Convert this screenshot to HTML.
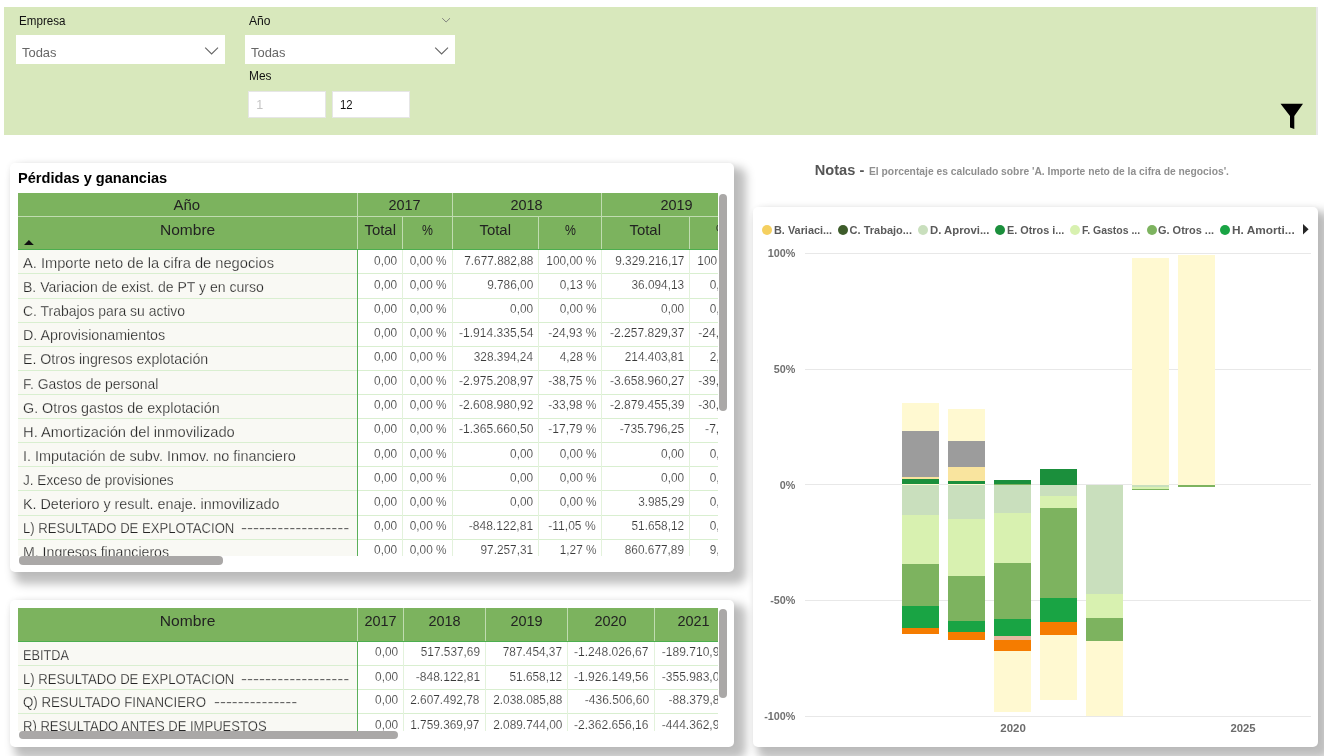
<!DOCTYPE html>
<html><head><meta charset="utf-8"><title>Pérdidas y ganancias</title>
<style>
html,body{margin:0;padding:0;}
body{width:1324px;height:756px;overflow:hidden;background:#fff;position:relative;font-family:"Liberation Sans",sans-serif;}
.t{position:absolute;white-space:pre;line-height:1;}
.clip{position:absolute;overflow:hidden;}
#root{position:absolute;left:0;top:0;width:1324px;height:756px;will-change:transform;}
</style></head>
<body>
<div id="root">
<div style="position:absolute;left:4.00px;top:7.00px;width:1312.00px;height:128.00px;background:#d8e8bc;"></div>
<div style="position:absolute;left:1316.00px;top:7.00px;width:2.00px;height:128.00px;background:#e8e8e8;"></div>
<div style="position:absolute;left:15.50px;top:35.30px;width:209.10px;height:28.60px;background:#fff;"></div>
<div style="position:absolute;left:245.30px;top:35.30px;width:209.30px;height:28.60px;background:#fff;"></div>
<div style="position:absolute;left:248.30px;top:90.90px;width:77.50px;height:27.40px;background:#fff;box-sizing:border-box;border:1px solid #e6e6e6;"></div>
<div style="position:absolute;left:331.60px;top:90.90px;width:78.20px;height:27.40px;background:#fff;box-sizing:border-box;border:1px solid #e6e6e6;"></div>
<svg style="position:absolute;left:0;top:0" width="1324" height="140" fill="none"><path d="M205.2 47.6 L211.6 54 L218 47.6" stroke="#666" stroke-width="1.1"/><path d="M435.2 47.6 L441.6 54 L448 47.6" stroke="#666" stroke-width="1.1"/><path d="M442.2 18.2 L446.1 22 L450 18.2" stroke="#777" stroke-width="0.9"/><path d="M1280.5 103.8 H1303 L1294.3 116 V129 L1290 127.5 V116 Z" fill="#000"/></svg>
<div style="position:absolute;left:9.50px;top:163.00px;width:724.50px;height:408.70px;background:#fff;border-radius:5px;box-shadow:8px 8px 10px 4px rgba(0,0,0,0.255),0 0 6px rgba(0,0,0,0.06);"></div>
<div style="position:absolute;left:9.50px;top:600.00px;width:724.50px;height:146.80px;background:#fff;border-radius:5px;box-shadow:8px 8px 10px 4px rgba(0,0,0,0.255),0 0 6px rgba(0,0,0,0.06);"></div>
<div style="position:absolute;left:753.20px;top:207.30px;width:564.90px;height:539.50px;background:#fff;border-radius:5px;box-shadow:8px 8px 10px 4px rgba(0,0,0,0.255),0 0 6px rgba(0,0,0,0.06);"></div>
<div class="clip" style="left:18px;top:193px;width:700.0px;height:363.0px"><div style="position:absolute;left:0.00px;top:0.00px;width:760.00px;height:56.80px;background:#7cb35e;"></div>
<div style="position:absolute;left:0.00px;top:56.80px;width:339.50px;height:400.00px;background:#f9f9f4;"></div>
<div style="position:absolute;left:0.00px;top:80.00px;width:760.00px;height:1.00px;background:#d9efd0;"></div>
<div style="position:absolute;left:0.00px;top:105.00px;width:760.00px;height:1.00px;background:#d9efd0;"></div>
<div style="position:absolute;left:0.00px;top:129.00px;width:760.00px;height:1.00px;background:#d9efd0;"></div>
<div style="position:absolute;left:0.00px;top:153.00px;width:760.00px;height:1.00px;background:#d9efd0;"></div>
<div style="position:absolute;left:0.00px;top:177.00px;width:760.00px;height:1.00px;background:#d9efd0;"></div>
<div style="position:absolute;left:0.00px;top:201.00px;width:760.00px;height:1.00px;background:#d9efd0;"></div>
<div style="position:absolute;left:0.00px;top:225.00px;width:760.00px;height:1.00px;background:#d9efd0;"></div>
<div style="position:absolute;left:0.00px;top:249.00px;width:760.00px;height:1.00px;background:#d9efd0;"></div>
<div style="position:absolute;left:0.00px;top:273.00px;width:760.00px;height:1.00px;background:#d9efd0;"></div>
<div style="position:absolute;left:0.00px;top:297.00px;width:760.00px;height:1.00px;background:#d9efd0;"></div>
<div style="position:absolute;left:0.00px;top:322.00px;width:760.00px;height:1.00px;background:#d9efd0;"></div>
<div style="position:absolute;left:0.00px;top:346.00px;width:760.00px;height:1.00px;background:#d9efd0;"></div>
<div style="position:absolute;left:0.00px;top:370.00px;width:760.00px;height:1.00px;background:#d9efd0;"></div>
<div style="position:absolute;left:384.00px;top:56.80px;width:1.00px;height:400.00px;background:#e3f2dc;"></div>
<div style="position:absolute;left:434.00px;top:56.80px;width:1.00px;height:400.00px;background:#e3f2dc;"></div>
<div style="position:absolute;left:520.00px;top:56.80px;width:1.00px;height:400.00px;background:#e3f2dc;"></div>
<div style="position:absolute;left:583.00px;top:56.80px;width:1.00px;height:400.00px;background:#e3f2dc;"></div>
<div style="position:absolute;left:671.00px;top:56.80px;width:1.00px;height:400.00px;background:#e3f2dc;"></div>
<div style="position:absolute;left:338.90px;top:56.80px;width:1.20px;height:400.00px;background:#5bb05a;"></div>
<div style="position:absolute;left:0.00px;top:22.50px;width:760.00px;height:1.00px;background:#c0dcb0;"></div>
<div style="position:absolute;left:339.00px;top:0.00px;width:1.00px;height:56.80px;background:#c0dcb0;"></div>
<div style="position:absolute;left:433.50px;top:0.00px;width:1.00px;height:56.80px;background:#c0dcb0;"></div>
<div style="position:absolute;left:583.10px;top:0.00px;width:1.00px;height:56.80px;background:#c0dcb0;"></div>
<div style="position:absolute;left:734.00px;top:0.00px;width:1.00px;height:56.80px;background:#c0dcb0;"></div>
<div style="position:absolute;left:384.00px;top:23.00px;width:1.00px;height:33.80px;background:#c0dcb0;"></div>
<div style="position:absolute;left:520.00px;top:23.00px;width:1.00px;height:33.80px;background:#c0dcb0;"></div>
<div style="position:absolute;left:671.00px;top:23.00px;width:1.00px;height:33.80px;background:#c0dcb0;"></div>
<div style="position:absolute;left:0.00px;top:56.00px;width:760.00px;height:1.30px;background:#4cae4f;"></div>
<svg style="position:absolute;left:5.5px;top:47.19999999999999px" width="10" height="6"><path d="M0 5 L4.9 0 L9.8 5 Z" fill="#111"/></svg>
<span class="t" style="top:62.94px;font-size:14.6px;color:#242424;-webkit-text-stroke:0.25px #f9f9f4;left:5.30px;transform-origin:0 0;transform:scaleX(1.0045);">A. Importe neto de la cifra de negocios</span>
<span class="t" style="top:61.60px;font-size:12.4px;color:#3a3a3a;-webkit-text-stroke:0.15px #fff;left:354.88px;transform-origin:100% 0;transform:scaleX(0.9550);">0,00</span>
<span class="t" style="top:61.60px;font-size:12.4px;color:#3a3a3a;-webkit-text-stroke:0.15px #fff;left:389.92px;transform-origin:100% 0;transform:scaleX(0.9550);">0,00 %</span>
<span class="t" style="top:61.60px;font-size:12.4px;color:#3a3a3a;-webkit-text-stroke:0.15px #fff;left:442.64px;transform-origin:100% 0;transform:scaleX(0.9550);">7.677.882,88</span>
<span class="t" style="top:61.60px;font-size:12.4px;color:#3a3a3a;-webkit-text-stroke:0.15px #fff;left:525.74px;transform-origin:100% 0;transform:scaleX(0.9550);">100,00 %</span>
<span class="t" style="top:61.60px;font-size:12.4px;color:#3a3a3a;-webkit-text-stroke:0.15px #fff;left:593.64px;transform-origin:100% 0;transform:scaleX(0.9550);">9.329.216,17</span>
<span class="t" style="top:61.60px;font-size:12.4px;color:#3a3a3a;-webkit-text-stroke:0.15px #fff;left:676.64px;transform-origin:100% 0;transform:scaleX(0.9550);">100,00 %</span>
<span class="t" style="top:87.06px;font-size:14.6px;color:#242424;-webkit-text-stroke:0.25px #f9f9f4;left:5.30px;transform-origin:0 0;transform:scaleX(0.9631);">B. Variacion de exist. de PT y en curso</span>
<span class="t" style="top:85.72px;font-size:12.4px;color:#3a3a3a;-webkit-text-stroke:0.15px #fff;left:354.88px;transform-origin:100% 0;transform:scaleX(0.9550);">0,00</span>
<span class="t" style="top:85.72px;font-size:12.4px;color:#3a3a3a;-webkit-text-stroke:0.15px #fff;left:389.92px;transform-origin:100% 0;transform:scaleX(0.9550);">0,00 %</span>
<span class="t" style="top:85.72px;font-size:12.4px;color:#3a3a3a;-webkit-text-stroke:0.15px #fff;left:466.77px;transform-origin:100% 0;transform:scaleX(0.9550);">9.786,00</span>
<span class="t" style="top:85.72px;font-size:12.4px;color:#3a3a3a;-webkit-text-stroke:0.15px #fff;left:539.52px;transform-origin:100% 0;transform:scaleX(0.9550);">0,13 %</span>
<span class="t" style="top:85.72px;font-size:12.4px;color:#3a3a3a;-webkit-text-stroke:0.15px #fff;left:610.88px;transform-origin:100% 0;transform:scaleX(0.9550);">36.094,13</span>
<span class="t" style="top:85.72px;font-size:12.4px;color:#3a3a3a;-webkit-text-stroke:0.15px #fff;left:690.42px;transform-origin:100% 0;transform:scaleX(0.9550);">0,39 %</span>
<span class="t" style="top:111.18px;font-size:14.6px;color:#242424;-webkit-text-stroke:0.25px #f9f9f4;left:5.30px;transform-origin:0 0;transform:scaleX(0.9562);">C. Trabajos para su activo</span>
<span class="t" style="top:109.84px;font-size:12.4px;color:#3a3a3a;-webkit-text-stroke:0.15px #fff;left:354.88px;transform-origin:100% 0;transform:scaleX(0.9550);">0,00</span>
<span class="t" style="top:109.84px;font-size:12.4px;color:#3a3a3a;-webkit-text-stroke:0.15px #fff;left:389.92px;transform-origin:100% 0;transform:scaleX(0.9550);">0,00 %</span>
<span class="t" style="top:109.84px;font-size:12.4px;color:#3a3a3a;-webkit-text-stroke:0.15px #fff;left:490.88px;transform-origin:100% 0;transform:scaleX(0.9550);">0,00</span>
<span class="t" style="top:109.84px;font-size:12.4px;color:#3a3a3a;-webkit-text-stroke:0.15px #fff;left:539.52px;transform-origin:100% 0;transform:scaleX(0.9550);">0,00 %</span>
<span class="t" style="top:109.84px;font-size:12.4px;color:#3a3a3a;-webkit-text-stroke:0.15px #fff;left:641.88px;transform-origin:100% 0;transform:scaleX(0.9550);">0,00</span>
<span class="t" style="top:109.84px;font-size:12.4px;color:#3a3a3a;-webkit-text-stroke:0.15px #fff;left:690.42px;transform-origin:100% 0;transform:scaleX(0.9550);">0,00 %</span>
<span class="t" style="top:135.30px;font-size:14.6px;color:#242424;-webkit-text-stroke:0.25px #f9f9f4;left:5.30px;transform-origin:0 0;transform:scaleX(0.9793);">D. Aprovisionamientos</span>
<span class="t" style="top:133.96px;font-size:12.4px;color:#3a3a3a;-webkit-text-stroke:0.15px #fff;left:354.88px;transform-origin:100% 0;transform:scaleX(0.9550);">0,00</span>
<span class="t" style="top:133.96px;font-size:12.4px;color:#3a3a3a;-webkit-text-stroke:0.15px #fff;left:389.92px;transform-origin:100% 0;transform:scaleX(0.9550);">0,00 %</span>
<span class="t" style="top:133.96px;font-size:12.4px;color:#3a3a3a;-webkit-text-stroke:0.15px #fff;left:438.52px;transform-origin:100% 0;transform:scaleX(0.9741);">-1.914.335,54</span>
<span class="t" style="top:133.96px;font-size:12.4px;color:#3a3a3a;-webkit-text-stroke:0.15px #fff;left:528.51px;transform-origin:100% 0;transform:scaleX(0.9741);">-24,93 %</span>
<span class="t" style="top:133.96px;font-size:12.4px;color:#3a3a3a;-webkit-text-stroke:0.15px #fff;left:589.52px;transform-origin:100% 0;transform:scaleX(0.9741);">-2.257.829,37</span>
<span class="t" style="top:133.96px;font-size:12.4px;color:#3a3a3a;-webkit-text-stroke:0.15px #fff;left:679.41px;transform-origin:100% 0;transform:scaleX(0.9741);">-24,20 %</span>
<span class="t" style="top:159.42px;font-size:14.6px;color:#242424;-webkit-text-stroke:0.25px #f9f9f4;left:5.30px;transform-origin:0 0;transform:scaleX(0.9715);">E. Otros ingresos explotación</span>
<span class="t" style="top:158.08px;font-size:12.4px;color:#3a3a3a;-webkit-text-stroke:0.15px #fff;left:354.88px;transform-origin:100% 0;transform:scaleX(0.9550);">0,00</span>
<span class="t" style="top:158.08px;font-size:12.4px;color:#3a3a3a;-webkit-text-stroke:0.15px #fff;left:389.92px;transform-origin:100% 0;transform:scaleX(0.9550);">0,00 %</span>
<span class="t" style="top:158.08px;font-size:12.4px;color:#3a3a3a;-webkit-text-stroke:0.15px #fff;left:452.98px;transform-origin:100% 0;transform:scaleX(0.9550);">328.394,24</span>
<span class="t" style="top:158.08px;font-size:12.4px;color:#3a3a3a;-webkit-text-stroke:0.15px #fff;left:539.52px;transform-origin:100% 0;transform:scaleX(0.9550);">4,28 %</span>
<span class="t" style="top:158.08px;font-size:12.4px;color:#3a3a3a;-webkit-text-stroke:0.15px #fff;left:603.98px;transform-origin:100% 0;transform:scaleX(0.9550);">214.403,81</span>
<span class="t" style="top:158.08px;font-size:12.4px;color:#3a3a3a;-webkit-text-stroke:0.15px #fff;left:690.42px;transform-origin:100% 0;transform:scaleX(0.9550);">2,30 %</span>
<span class="t" style="top:183.54px;font-size:14.6px;color:#242424;-webkit-text-stroke:0.25px #f9f9f4;left:5.30px;transform-origin:0 0;transform:scaleX(0.9537);">F. Gastos de personal</span>
<span class="t" style="top:182.20px;font-size:12.4px;color:#3a3a3a;-webkit-text-stroke:0.15px #fff;left:354.88px;transform-origin:100% 0;transform:scaleX(0.9550);">0,00</span>
<span class="t" style="top:182.20px;font-size:12.4px;color:#3a3a3a;-webkit-text-stroke:0.15px #fff;left:389.92px;transform-origin:100% 0;transform:scaleX(0.9550);">0,00 %</span>
<span class="t" style="top:182.20px;font-size:12.4px;color:#3a3a3a;-webkit-text-stroke:0.15px #fff;left:438.52px;transform-origin:100% 0;transform:scaleX(0.9741);">-2.975.208,97</span>
<span class="t" style="top:182.20px;font-size:12.4px;color:#3a3a3a;-webkit-text-stroke:0.15px #fff;left:528.51px;transform-origin:100% 0;transform:scaleX(0.9741);">-38,75 %</span>
<span class="t" style="top:182.20px;font-size:12.4px;color:#3a3a3a;-webkit-text-stroke:0.15px #fff;left:589.52px;transform-origin:100% 0;transform:scaleX(0.9741);">-3.658.960,27</span>
<span class="t" style="top:182.20px;font-size:12.4px;color:#3a3a3a;-webkit-text-stroke:0.15px #fff;left:679.41px;transform-origin:100% 0;transform:scaleX(0.9741);">-39,22 %</span>
<span class="t" style="top:207.66px;font-size:14.6px;color:#242424;-webkit-text-stroke:0.25px #f9f9f4;left:5.30px;transform-origin:0 0;transform:scaleX(0.9812);">G. Otros gastos de explotación</span>
<span class="t" style="top:206.32px;font-size:12.4px;color:#3a3a3a;-webkit-text-stroke:0.15px #fff;left:354.88px;transform-origin:100% 0;transform:scaleX(0.9550);">0,00</span>
<span class="t" style="top:206.32px;font-size:12.4px;color:#3a3a3a;-webkit-text-stroke:0.15px #fff;left:389.92px;transform-origin:100% 0;transform:scaleX(0.9550);">0,00 %</span>
<span class="t" style="top:206.32px;font-size:12.4px;color:#3a3a3a;-webkit-text-stroke:0.15px #fff;left:438.52px;transform-origin:100% 0;transform:scaleX(0.9741);">-2.608.980,92</span>
<span class="t" style="top:206.32px;font-size:12.4px;color:#3a3a3a;-webkit-text-stroke:0.15px #fff;left:528.51px;transform-origin:100% 0;transform:scaleX(0.9741);">-33,98 %</span>
<span class="t" style="top:206.32px;font-size:12.4px;color:#3a3a3a;-webkit-text-stroke:0.15px #fff;left:589.52px;transform-origin:100% 0;transform:scaleX(0.9741);">-2.879.455,39</span>
<span class="t" style="top:206.32px;font-size:12.4px;color:#3a3a3a;-webkit-text-stroke:0.15px #fff;left:679.41px;transform-origin:100% 0;transform:scaleX(0.9741);">-30,86 %</span>
<span class="t" style="top:231.78px;font-size:14.6px;color:#242424;-webkit-text-stroke:0.25px #f9f9f4;left:5.30px;transform-origin:0 0;transform:scaleX(1.0082);">H. Amortización del inmovilizado</span>
<span class="t" style="top:230.44px;font-size:12.4px;color:#3a3a3a;-webkit-text-stroke:0.15px #fff;left:354.88px;transform-origin:100% 0;transform:scaleX(0.9550);">0,00</span>
<span class="t" style="top:230.44px;font-size:12.4px;color:#3a3a3a;-webkit-text-stroke:0.15px #fff;left:389.92px;transform-origin:100% 0;transform:scaleX(0.9550);">0,00 %</span>
<span class="t" style="top:230.44px;font-size:12.4px;color:#3a3a3a;-webkit-text-stroke:0.15px #fff;left:438.52px;transform-origin:100% 0;transform:scaleX(0.9741);">-1.365.660,50</span>
<span class="t" style="top:230.44px;font-size:12.4px;color:#3a3a3a;-webkit-text-stroke:0.15px #fff;left:528.51px;transform-origin:100% 0;transform:scaleX(0.9741);">-17,79 %</span>
<span class="t" style="top:230.44px;font-size:12.4px;color:#3a3a3a;-webkit-text-stroke:0.15px #fff;left:599.86px;transform-origin:100% 0;transform:scaleX(0.9741);">-735.796,25</span>
<span class="t" style="top:230.44px;font-size:12.4px;color:#3a3a3a;-webkit-text-stroke:0.15px #fff;left:686.30px;transform-origin:100% 0;transform:scaleX(0.9741);">-7,89 %</span>
<span class="t" style="top:255.90px;font-size:14.6px;color:#242424;-webkit-text-stroke:0.25px #f9f9f4;left:5.30px;transform-origin:0 0;transform:scaleX(0.9878);">I. Imputación de subv. Inmov. no financiero</span>
<span class="t" style="top:254.56px;font-size:12.4px;color:#3a3a3a;-webkit-text-stroke:0.15px #fff;left:354.88px;transform-origin:100% 0;transform:scaleX(0.9550);">0,00</span>
<span class="t" style="top:254.56px;font-size:12.4px;color:#3a3a3a;-webkit-text-stroke:0.15px #fff;left:389.92px;transform-origin:100% 0;transform:scaleX(0.9550);">0,00 %</span>
<span class="t" style="top:254.56px;font-size:12.4px;color:#3a3a3a;-webkit-text-stroke:0.15px #fff;left:490.88px;transform-origin:100% 0;transform:scaleX(0.9550);">0,00</span>
<span class="t" style="top:254.56px;font-size:12.4px;color:#3a3a3a;-webkit-text-stroke:0.15px #fff;left:539.52px;transform-origin:100% 0;transform:scaleX(0.9550);">0,00 %</span>
<span class="t" style="top:254.56px;font-size:12.4px;color:#3a3a3a;-webkit-text-stroke:0.15px #fff;left:641.88px;transform-origin:100% 0;transform:scaleX(0.9550);">0,00</span>
<span class="t" style="top:254.56px;font-size:12.4px;color:#3a3a3a;-webkit-text-stroke:0.15px #fff;left:690.42px;transform-origin:100% 0;transform:scaleX(0.9550);">0,00 %</span>
<span class="t" style="top:280.02px;font-size:14.6px;color:#242424;-webkit-text-stroke:0.25px #f9f9f4;left:5.30px;transform-origin:0 0;transform:scaleX(0.9329);">J. Exceso de provisiones</span>
<span class="t" style="top:278.68px;font-size:12.4px;color:#3a3a3a;-webkit-text-stroke:0.15px #fff;left:354.88px;transform-origin:100% 0;transform:scaleX(0.9550);">0,00</span>
<span class="t" style="top:278.68px;font-size:12.4px;color:#3a3a3a;-webkit-text-stroke:0.15px #fff;left:389.92px;transform-origin:100% 0;transform:scaleX(0.9550);">0,00 %</span>
<span class="t" style="top:278.68px;font-size:12.4px;color:#3a3a3a;-webkit-text-stroke:0.15px #fff;left:490.88px;transform-origin:100% 0;transform:scaleX(0.9550);">0,00</span>
<span class="t" style="top:278.68px;font-size:12.4px;color:#3a3a3a;-webkit-text-stroke:0.15px #fff;left:539.52px;transform-origin:100% 0;transform:scaleX(0.9550);">0,00 %</span>
<span class="t" style="top:278.68px;font-size:12.4px;color:#3a3a3a;-webkit-text-stroke:0.15px #fff;left:641.88px;transform-origin:100% 0;transform:scaleX(0.9550);">0,00</span>
<span class="t" style="top:278.68px;font-size:12.4px;color:#3a3a3a;-webkit-text-stroke:0.15px #fff;left:690.42px;transform-origin:100% 0;transform:scaleX(0.9550);">0,00 %</span>
<span class="t" style="top:304.14px;font-size:14.6px;color:#242424;-webkit-text-stroke:0.25px #f9f9f4;left:5.30px;transform-origin:0 0;transform:scaleX(0.9817);">K. Deterioro y result. enaje. inmovilizado</span>
<span class="t" style="top:302.80px;font-size:12.4px;color:#3a3a3a;-webkit-text-stroke:0.15px #fff;left:354.88px;transform-origin:100% 0;transform:scaleX(0.9550);">0,00</span>
<span class="t" style="top:302.80px;font-size:12.4px;color:#3a3a3a;-webkit-text-stroke:0.15px #fff;left:389.92px;transform-origin:100% 0;transform:scaleX(0.9550);">0,00 %</span>
<span class="t" style="top:302.80px;font-size:12.4px;color:#3a3a3a;-webkit-text-stroke:0.15px #fff;left:490.88px;transform-origin:100% 0;transform:scaleX(0.9550);">0,00</span>
<span class="t" style="top:302.80px;font-size:12.4px;color:#3a3a3a;-webkit-text-stroke:0.15px #fff;left:539.52px;transform-origin:100% 0;transform:scaleX(0.9550);">0,00 %</span>
<span class="t" style="top:302.80px;font-size:12.4px;color:#3a3a3a;-webkit-text-stroke:0.15px #fff;left:617.77px;transform-origin:100% 0;transform:scaleX(0.9550);">3.985,29</span>
<span class="t" style="top:302.80px;font-size:12.4px;color:#3a3a3a;-webkit-text-stroke:0.15px #fff;left:690.42px;transform-origin:100% 0;transform:scaleX(0.9550);">0,04 %</span>
<span class="t" style="top:328.26px;font-size:14.6px;color:#242424;-webkit-text-stroke:0.25px #f9f9f4;left:5.30px;transform-origin:0 0;transform:scaleX(0.8985);">L) RESULTADO DE EXPLOTACION</span>
<span class="t" style="top:328.26px;font-size:14.6px;color:#242424;-webkit-text-stroke:0.25px #f9f9f4;left:222.60px;transform-origin:0 0;transform:scaleX(1.2391);">------------------</span>
<span class="t" style="top:326.92px;font-size:12.4px;color:#3a3a3a;-webkit-text-stroke:0.15px #fff;left:354.88px;transform-origin:100% 0;transform:scaleX(0.9550);">0,00</span>
<span class="t" style="top:326.92px;font-size:12.4px;color:#3a3a3a;-webkit-text-stroke:0.15px #fff;left:389.92px;transform-origin:100% 0;transform:scaleX(0.9550);">0,00 %</span>
<span class="t" style="top:326.92px;font-size:12.4px;color:#3a3a3a;-webkit-text-stroke:0.15px #fff;left:448.86px;transform-origin:100% 0;transform:scaleX(0.9741);">-848.122,81</span>
<span class="t" style="top:326.92px;font-size:12.4px;color:#3a3a3a;-webkit-text-stroke:0.15px #fff;left:529.41px;transform-origin:100% 0;transform:scaleX(0.9741);">-11,05 %</span>
<span class="t" style="top:326.92px;font-size:12.4px;color:#3a3a3a;-webkit-text-stroke:0.15px #fff;left:610.88px;transform-origin:100% 0;transform:scaleX(0.9550);">51.658,12</span>
<span class="t" style="top:326.92px;font-size:12.4px;color:#3a3a3a;-webkit-text-stroke:0.15px #fff;left:690.42px;transform-origin:100% 0;transform:scaleX(0.9550);">0,55 %</span>
<span class="t" style="top:352.38px;font-size:14.6px;color:#242424;-webkit-text-stroke:0.25px #f9f9f4;left:5.30px;transform-origin:0 0;transform:scaleX(0.9677);">M. Ingresos financieros</span>
<span class="t" style="top:351.04px;font-size:12.4px;color:#3a3a3a;-webkit-text-stroke:0.15px #fff;left:354.88px;transform-origin:100% 0;transform:scaleX(0.9550);">0,00</span>
<span class="t" style="top:351.04px;font-size:12.4px;color:#3a3a3a;-webkit-text-stroke:0.15px #fff;left:389.92px;transform-origin:100% 0;transform:scaleX(0.9550);">0,00 %</span>
<span class="t" style="top:351.04px;font-size:12.4px;color:#3a3a3a;-webkit-text-stroke:0.15px #fff;left:459.88px;transform-origin:100% 0;transform:scaleX(0.9550);">97.257,31</span>
<span class="t" style="top:351.04px;font-size:12.4px;color:#3a3a3a;-webkit-text-stroke:0.15px #fff;left:539.52px;transform-origin:100% 0;transform:scaleX(0.9550);">1,27 %</span>
<span class="t" style="top:351.04px;font-size:12.4px;color:#3a3a3a;-webkit-text-stroke:0.15px #fff;left:603.98px;transform-origin:100% 0;transform:scaleX(0.9550);">860.677,89</span>
<span class="t" style="top:351.04px;font-size:12.4px;color:#3a3a3a;-webkit-text-stroke:0.15px #fff;left:690.42px;transform-origin:100% 0;transform:scaleX(0.9550);">9,23 %</span>
<span class="t" style="top:4.61px;font-size:14.4px;color:#222;left:156.00px;transform-origin:50% 0;transform:scaleX(1.0387);">Año</span>
<span class="t" style="top:30.21px;font-size:14.4px;color:#222;left:143.61px;transform-origin:50% 0;transform:scaleX(1.0803);">Nombre</span>
<span class="t" style="top:4.85px;font-size:14px;color:#222;left:371.17px;transform-origin:50% 0;transform:scaleX(1.0335);">2017</span>
<span class="t" style="top:4.85px;font-size:14px;color:#222;left:493.22px;transform-origin:50% 0;transform:scaleX(1.0335);">2018</span>
<span class="t" style="top:4.85px;font-size:14px;color:#222;left:643.47px;transform-origin:50% 0;transform:scaleX(1.0335);">2019</span>
<span class="t" style="top:30.21px;font-size:14.4px;color:#222;left:346.80px;transform-origin:50% 0;transform:scaleX(1.0360);">Total</span>
<span class="t" style="top:30.21px;font-size:14.4px;color:#222;left:402.85px;transform-origin:50% 0;transform:scaleX(0.8518);">%</span>
<span class="t" style="top:30.21px;font-size:14.4px;color:#222;left:462.05px;transform-origin:50% 0;transform:scaleX(1.0360);">Total</span>
<span class="t" style="top:30.21px;font-size:14.4px;color:#222;left:545.65px;transform-origin:50% 0;transform:scaleX(0.8518);">%</span>
<span class="t" style="top:30.21px;font-size:14.4px;color:#222;left:612.35px;transform-origin:50% 0;transform:scaleX(1.0360);">Total</span>
<span class="t" style="top:30.21px;font-size:14.4px;color:#222;left:696.60px;transform-origin:50% 0;transform:scaleX(0.8518);">%</span></div>
<div style="position:absolute;left:718.90px;top:193.50px;width:8.10px;height:217.40px;background:#aaa8a7;border-radius:4px;"></div>
<div style="position:absolute;left:18.70px;top:556.40px;width:204.60px;height:8.20px;background:#aaa8a7;border-radius:4.1px;"></div>
<div class="clip" style="left:18px;top:608px;width:700.0px;height:122.8px"><div style="position:absolute;left:0.00px;top:0.00px;width:760.00px;height:33.70px;background:#7cb35e;"></div>
<div style="position:absolute;left:0.00px;top:33.70px;width:339.40px;height:200.00px;background:#f9f9f4;"></div>
<div style="position:absolute;left:0.00px;top:57.00px;width:760.00px;height:1.00px;background:#d9efd0;"></div>
<div style="position:absolute;left:0.00px;top:81.00px;width:760.00px;height:1.00px;background:#d9efd0;"></div>
<div style="position:absolute;left:0.00px;top:105.00px;width:760.00px;height:1.00px;background:#d9efd0;"></div>
<div style="position:absolute;left:0.00px;top:129.00px;width:760.00px;height:1.00px;background:#d9efd0;"></div>
<div style="position:absolute;left:385.00px;top:33.70px;width:1.00px;height:200.00px;background:#e3f2dc;"></div>
<div style="position:absolute;left:467.00px;top:33.70px;width:1.00px;height:200.00px;background:#e3f2dc;"></div>
<div style="position:absolute;left:549.00px;top:33.70px;width:1.00px;height:200.00px;background:#e3f2dc;"></div>
<div style="position:absolute;left:636.00px;top:33.70px;width:1.00px;height:200.00px;background:#e3f2dc;"></div>
<div style="position:absolute;left:338.80px;top:33.70px;width:1.20px;height:200.00px;background:#5bb05a;"></div>
<div style="position:absolute;left:338.90px;top:0.00px;width:1.00px;height:33.70px;background:#c0dcb0;"></div>
<div style="position:absolute;left:385.00px;top:0.00px;width:1.00px;height:33.70px;background:#c0dcb0;"></div>
<div style="position:absolute;left:466.80px;top:0.00px;width:1.00px;height:33.70px;background:#c0dcb0;"></div>
<div style="position:absolute;left:549.00px;top:0.00px;width:1.00px;height:33.70px;background:#c0dcb0;"></div>
<div style="position:absolute;left:635.90px;top:0.00px;width:1.00px;height:33.70px;background:#c0dcb0;"></div>
<div style="position:absolute;left:713.50px;top:0.00px;width:1.00px;height:33.70px;background:#c0dcb0;"></div>
<div style="position:absolute;left:0.00px;top:32.90px;width:760.00px;height:1.30px;background:#4cae4f;"></div>
<span class="t" style="top:39.64px;font-size:14.6px;color:#242424;-webkit-text-stroke:0.25px #f9f9f4;left:5.30px;transform-origin:0 0;transform:scaleX(0.8707);">EBITDA</span>
<span class="t" style="top:37.70px;font-size:12.4px;color:#3a3a3a;-webkit-text-stroke:0.15px #fff;left:355.88px;transform-origin:100% 0;transform:scaleX(0.9550);">0,00</span>
<span class="t" style="top:37.70px;font-size:12.4px;color:#3a3a3a;-webkit-text-stroke:0.15px #fff;left:399.78px;transform-origin:100% 0;transform:scaleX(0.9550);">517.537,69</span>
<span class="t" style="top:37.70px;font-size:12.4px;color:#3a3a3a;-webkit-text-stroke:0.15px #fff;left:481.98px;transform-origin:100% 0;transform:scaleX(0.9550);">787.454,37</span>
<span class="t" style="top:37.70px;font-size:12.4px;color:#3a3a3a;-webkit-text-stroke:0.15px #fff;left:554.42px;transform-origin:100% 0;transform:scaleX(0.9741);">-1.248.026,67</span>
<span class="t" style="top:37.70px;font-size:12.4px;color:#3a3a3a;-webkit-text-stroke:0.15px #fff;left:642.36px;transform-origin:100% 0;transform:scaleX(0.9741);">-189.710,98</span>
<span class="t" style="top:63.54px;font-size:14.6px;color:#242424;-webkit-text-stroke:0.25px #f9f9f4;left:5.30px;transform-origin:0 0;transform:scaleX(0.8985);">L) RESULTADO DE EXPLOTACION</span>
<span class="t" style="top:63.54px;font-size:14.6px;color:#242424;-webkit-text-stroke:0.25px #f9f9f4;left:222.60px;transform-origin:0 0;transform:scaleX(1.2391);">------------------</span>
<span class="t" style="top:62.80px;font-size:12.4px;color:#3a3a3a;-webkit-text-stroke:0.15px #fff;left:355.88px;transform-origin:100% 0;transform:scaleX(0.9550);">0,00</span>
<span class="t" style="top:62.80px;font-size:12.4px;color:#3a3a3a;-webkit-text-stroke:0.15px #fff;left:395.66px;transform-origin:100% 0;transform:scaleX(0.9741);">-848.122,81</span>
<span class="t" style="top:62.80px;font-size:12.4px;color:#3a3a3a;-webkit-text-stroke:0.15px #fff;left:488.88px;transform-origin:100% 0;transform:scaleX(0.9550);">51.658,12</span>
<span class="t" style="top:62.80px;font-size:12.4px;color:#3a3a3a;-webkit-text-stroke:0.15px #fff;left:554.42px;transform-origin:100% 0;transform:scaleX(0.9741);">-1.926.149,56</span>
<span class="t" style="top:62.80px;font-size:12.4px;color:#3a3a3a;-webkit-text-stroke:0.15px #fff;left:642.36px;transform-origin:100% 0;transform:scaleX(0.9741);">-355.983,08</span>
<span class="t" style="top:87.44px;font-size:14.6px;color:#242424;-webkit-text-stroke:0.25px #f9f9f4;left:5.30px;transform-origin:0 0;transform:scaleX(0.9088);">Q) RESULTADO FINANCIERO</span>
<span class="t" style="top:87.44px;font-size:14.6px;color:#242424;-webkit-text-stroke:0.25px #f9f9f4;left:195.60px;transform-origin:0 0;transform:scaleX(1.2227);">--------------</span>
<span class="t" style="top:85.60px;font-size:12.4px;color:#3a3a3a;-webkit-text-stroke:0.15px #fff;left:355.88px;transform-origin:100% 0;transform:scaleX(0.9550);">0,00</span>
<span class="t" style="top:85.60px;font-size:12.4px;color:#3a3a3a;-webkit-text-stroke:0.15px #fff;left:389.44px;transform-origin:100% 0;transform:scaleX(0.9550);">2.607.492,78</span>
<span class="t" style="top:85.60px;font-size:12.4px;color:#3a3a3a;-webkit-text-stroke:0.15px #fff;left:471.64px;transform-origin:100% 0;transform:scaleX(0.9550);">2.038.085,88</span>
<span class="t" style="top:85.60px;font-size:12.4px;color:#3a3a3a;-webkit-text-stroke:0.15px #fff;left:564.76px;transform-origin:100% 0;transform:scaleX(0.9741);">-436.506,60</span>
<span class="t" style="top:85.60px;font-size:12.4px;color:#3a3a3a;-webkit-text-stroke:0.15px #fff;left:649.25px;transform-origin:100% 0;transform:scaleX(0.9741);">-88.379,87</span>
<span class="t" style="top:111.34px;font-size:14.6px;color:#242424;-webkit-text-stroke:0.25px #f9f9f4;left:5.30px;transform-origin:0 0;transform:scaleX(0.8940);">R) RESULTADO ANTES DE IMPUESTOS</span>
<span class="t" style="top:111.00px;font-size:12.4px;color:#3a3a3a;-webkit-text-stroke:0.15px #fff;left:355.88px;transform-origin:100% 0;transform:scaleX(0.9550);">0,00</span>
<span class="t" style="top:111.00px;font-size:12.4px;color:#3a3a3a;-webkit-text-stroke:0.15px #fff;left:389.44px;transform-origin:100% 0;transform:scaleX(0.9550);">1.759.369,97</span>
<span class="t" style="top:111.00px;font-size:12.4px;color:#3a3a3a;-webkit-text-stroke:0.15px #fff;left:471.64px;transform-origin:100% 0;transform:scaleX(0.9550);">2.089.744,00</span>
<span class="t" style="top:111.00px;font-size:12.4px;color:#3a3a3a;-webkit-text-stroke:0.15px #fff;left:554.42px;transform-origin:100% 0;transform:scaleX(0.9741);">-2.362.656,16</span>
<span class="t" style="top:111.00px;font-size:12.4px;color:#3a3a3a;-webkit-text-stroke:0.15px #fff;left:642.36px;transform-origin:100% 0;transform:scaleX(0.9741);">-444.362,95</span>
<span class="t" style="top:6.21px;font-size:14.4px;color:#222;left:143.51px;transform-origin:50% 0;transform:scaleX(1.0842);">Nombre</span>
<span class="t" style="top:6.45px;font-size:14px;color:#222;left:346.87px;transform-origin:50% 0;transform:scaleX(1.0335);">2017</span>
<span class="t" style="top:6.45px;font-size:14px;color:#222;left:410.82px;transform-origin:50% 0;transform:scaleX(1.0335);">2018</span>
<span class="t" style="top:6.45px;font-size:14px;color:#222;left:492.82px;transform-origin:50% 0;transform:scaleX(1.0335);">2019</span>
<span class="t" style="top:6.45px;font-size:14px;color:#222;left:577.37px;transform-origin:50% 0;transform:scaleX(1.0335);">2020</span>
<span class="t" style="top:6.45px;font-size:14px;color:#222;left:659.62px;transform-origin:50% 0;transform:scaleX(1.0335);">2021</span></div>
<div style="position:absolute;left:719.00px;top:609.00px;width:8.10px;height:89.00px;background:#aaa8a7;border-radius:4px;"></div>
<div style="position:absolute;left:18.70px;top:731.30px;width:379.00px;height:7.90px;background:#aaa8a7;border-radius:4px;"></div>
<div style="position:absolute;left:805.40px;top:252.90px;width:505.20px;height:1.00px;background:#e8e8e8;"></div>
<div style="position:absolute;left:805.40px;top:368.62px;width:505.20px;height:1.00px;background:#e8e8e8;"></div>
<div style="position:absolute;left:805.40px;top:484.35px;width:505.20px;height:1.00px;background:#e8e8e8;"></div>
<div style="position:absolute;left:805.40px;top:600.08px;width:505.20px;height:1.00px;background:#e8e8e8;"></div>
<div style="position:absolute;left:805.40px;top:715.80px;width:505.20px;height:1.00px;background:#e8e8e8;"></div>
<div style="position:absolute;left:902.40px;top:402.70px;width:36.80px;height:28.20px;background:#fff9d1;"></div>
<div style="position:absolute;left:902.40px;top:430.90px;width:36.80px;height:46.40px;background:#9c9c9c;"></div>
<div style="position:absolute;left:902.40px;top:477.30px;width:36.80px;height:1.70px;background:#f9e49e;"></div>
<div style="position:absolute;left:902.40px;top:479.00px;width:36.80px;height:4.90px;background:#1b8f3c;"></div>
<div style="position:absolute;left:902.40px;top:483.90px;width:36.80px;height:0.95px;background:#fff9d1;"></div>
<div style="position:absolute;left:902.40px;top:484.85px;width:36.80px;height:30.15px;background:#c9dfbd;"></div>
<div style="position:absolute;left:902.40px;top:515.00px;width:36.80px;height:48.60px;background:#d8f1b0;"></div>
<div style="position:absolute;left:902.40px;top:563.60px;width:36.80px;height:42.20px;background:#7db35f;"></div>
<div style="position:absolute;left:902.40px;top:605.80px;width:36.80px;height:21.90px;background:#19a444;"></div>
<div style="position:absolute;left:902.40px;top:627.70px;width:36.80px;height:6.00px;background:#f57c00;"></div>
<div style="position:absolute;left:948.40px;top:408.60px;width:36.80px;height:32.50px;background:#fff9d1;"></div>
<div style="position:absolute;left:948.40px;top:441.10px;width:36.80px;height:26.10px;background:#9c9c9c;"></div>
<div style="position:absolute;left:948.40px;top:467.20px;width:36.80px;height:13.60px;background:#f9e49e;"></div>
<div style="position:absolute;left:948.40px;top:480.80px;width:36.80px;height:3.10px;background:#1b8f3c;"></div>
<div style="position:absolute;left:948.40px;top:483.90px;width:36.80px;height:0.95px;background:#fff9d1;"></div>
<div style="position:absolute;left:948.40px;top:484.85px;width:36.80px;height:34.15px;background:#c9dfbd;"></div>
<div style="position:absolute;left:948.40px;top:519.00px;width:36.80px;height:57.20px;background:#d8f1b0;"></div>
<div style="position:absolute;left:948.40px;top:576.20px;width:36.80px;height:45.00px;background:#7db35f;"></div>
<div style="position:absolute;left:948.40px;top:621.20px;width:36.80px;height:11.20px;background:#19a444;"></div>
<div style="position:absolute;left:948.40px;top:632.40px;width:36.80px;height:7.30px;background:#f57c00;"></div>
<div style="position:absolute;left:994.30px;top:480.20px;width:36.70px;height:4.00px;background:#1b8f3c;"></div>
<div style="position:absolute;left:994.30px;top:484.20px;width:36.70px;height:0.65px;background:#7db35f;"></div>
<div style="position:absolute;left:994.30px;top:484.85px;width:36.70px;height:28.15px;background:#c9dfbd;"></div>
<div style="position:absolute;left:994.30px;top:513.00px;width:36.70px;height:49.80px;background:#d8f1b0;"></div>
<div style="position:absolute;left:994.30px;top:562.80px;width:36.70px;height:56.20px;background:#7db35f;"></div>
<div style="position:absolute;left:994.30px;top:619.00px;width:36.70px;height:16.70px;background:#19a444;"></div>
<div style="position:absolute;left:994.30px;top:635.70px;width:36.70px;height:4.00px;background:#e6b9a2;"></div>
<div style="position:absolute;left:994.30px;top:639.70px;width:36.70px;height:11.00px;background:#f57c00;"></div>
<div style="position:absolute;left:994.30px;top:650.70px;width:36.70px;height:61.30px;background:#fff9d1;"></div>
<div style="position:absolute;left:1040.20px;top:468.60px;width:36.80px;height:16.25px;background:#1b8f3c;"></div>
<div style="position:absolute;left:1040.20px;top:484.85px;width:36.80px;height:11.45px;background:#c9dfbd;"></div>
<div style="position:absolute;left:1040.20px;top:496.30px;width:36.80px;height:11.60px;background:#d8f1b0;"></div>
<div style="position:absolute;left:1040.20px;top:507.90px;width:36.80px;height:89.70px;background:#7db35f;"></div>
<div style="position:absolute;left:1040.20px;top:597.60px;width:36.80px;height:24.10px;background:#19a444;"></div>
<div style="position:absolute;left:1040.20px;top:621.70px;width:36.80px;height:13.00px;background:#f57c00;"></div>
<div style="position:absolute;left:1040.20px;top:634.70px;width:36.80px;height:65.10px;background:#fff9d1;"></div>
<div style="position:absolute;left:1086.20px;top:484.85px;width:36.70px;height:109.25px;background:#c9dfbd;"></div>
<div style="position:absolute;left:1086.20px;top:594.10px;width:36.70px;height:24.00px;background:#d8f1b0;"></div>
<div style="position:absolute;left:1086.20px;top:618.10px;width:36.70px;height:22.80px;background:#7db35f;"></div>
<div style="position:absolute;left:1086.20px;top:640.90px;width:36.70px;height:75.40px;background:#fff9d1;"></div>
<div style="position:absolute;left:1132.20px;top:258.30px;width:36.80px;height:226.55px;background:#fff9d1;"></div>
<div style="position:absolute;left:1132.20px;top:484.85px;width:36.80px;height:2.55px;background:#c9dfbd;"></div>
<div style="position:absolute;left:1132.20px;top:487.40px;width:36.80px;height:1.50px;background:#d8f1b0;"></div>
<div style="position:absolute;left:1132.20px;top:488.90px;width:36.80px;height:1.00px;background:#7db35f;"></div>
<div style="position:absolute;left:1178.10px;top:254.90px;width:36.90px;height:229.95px;background:#fff9d1;"></div>
<div style="position:absolute;left:1178.10px;top:484.85px;width:36.90px;height:1.95px;background:#7db35f;"></div>
<div style="position:absolute;left:762.30px;top:225.00px;width:10.00px;height:10.00px;background:#f5d060;border-radius:50%;"></div>
<div style="position:absolute;left:838.20px;top:225.00px;width:10.00px;height:10.00px;background:#3e5c2b;border-radius:50%;"></div>
<div style="position:absolute;left:918.00px;top:225.00px;width:10.00px;height:10.00px;background:#c9dfbd;border-radius:50%;"></div>
<div style="position:absolute;left:995.30px;top:225.00px;width:10.00px;height:10.00px;background:#1b8f3c;border-radius:50%;"></div>
<div style="position:absolute;left:1070.20px;top:225.00px;width:10.00px;height:10.00px;background:#d8f1b0;border-radius:50%;"></div>
<div style="position:absolute;left:1147.00px;top:225.00px;width:10.00px;height:10.00px;background:#7db35f;border-radius:50%;"></div>
<div style="position:absolute;left:1220.20px;top:225.00px;width:10.00px;height:10.00px;background:#19a444;border-radius:50%;"></div>
<svg style="position:absolute;left:1302.6px;top:224px" width="7" height="11"><path d="M0 0 L5.6 5.2 L0 10.4 Z" fill="#262626"/></svg>
<span class="t" style="top:14.84px;font-size:12px;color:#111;left:19.20px;transform-origin:0 0;transform:scaleX(0.9681);">Empresa</span>
<span class="t" style="top:46.00px;font-size:13px;color:#666;left:22.20px;transform-origin:0 0;transform:scaleX(0.9941);">Todas</span>
<span class="t" style="top:14.84px;font-size:12px;color:#111;left:248.80px;transform-origin:0 0;transform:scaleX(1.0066);">Año</span>
<span class="t" style="top:46.00px;font-size:13px;color:#666;left:251.40px;transform-origin:0 0;transform:scaleX(0.9941);">Todas</span>
<span class="t" style="top:69.64px;font-size:12px;color:#111;left:248.80px;transform-origin:0 0;transform:scaleX(0.9924);">Mes</span>
<span class="t" style="top:98.52px;font-size:12.5px;color:#c4c4c4;left:256.30px;transform-origin:0 0;">1</span>
<span class="t" style="top:98.52px;font-size:12.5px;color:#111;left:339.80px;transform-origin:0 0;transform:scaleX(0.9061);">12</span>
<span class="t" style="top:170.95px;font-size:14px;color:#000;font-weight:700;left:18.25px;transform-origin:0 0;transform:scaleX(1.0420);">Pérdidas y ganancias</span>
<span class="t" style="top:162.64px;font-size:14.6px;color:#555;font-weight:700;left:814.80px;transform-origin:0 0;">Notas -</span>
<span class="t" style="top:166.77px;font-size:10.2px;color:#8f8f8f;font-weight:700;left:869.20px;transform-origin:0 0;transform:scaleX(1.0100);">El porcentaje es calculado sobre &#x27;A. Importe neto de la cifra de negocios&#x27;.</span>
<span class="t" style="top:248.16px;font-size:10.8px;color:#707070;font-weight:700;left:767.77px;transform-origin:100% 0;">100%</span>
<span class="t" style="top:363.88px;font-size:10.8px;color:#707070;font-weight:700;left:773.77px;transform-origin:100% 0;">50%</span>
<span class="t" style="top:479.61px;font-size:10.8px;color:#707070;font-weight:700;left:779.79px;transform-origin:100% 0;">0%</span>
<span class="t" style="top:595.33px;font-size:10.8px;color:#707070;font-weight:700;left:770.18px;transform-origin:100% 0;">-50%</span>
<span class="t" style="top:711.06px;font-size:10.8px;color:#707070;font-weight:700;left:764.18px;transform-origin:100% 0;">-100%</span>
<span class="t" style="top:723.16px;font-size:10.8px;color:#6b6b6b;font-weight:700;left:1001.18px;transform-origin:50% 0;transform:scaleX(1.0611);">2020</span>
<span class="t" style="top:723.16px;font-size:10.8px;color:#6b6b6b;font-weight:700;left:1230.88px;transform-origin:50% 0;transform:scaleX(1.0486);">2025</span>
<span class="t" style="top:224.99px;font-size:11px;color:#5a5a5a;font-weight:700;left:774.40px;transform-origin:0 0;transform:scaleX(0.9897);">B. Variaci...</span>
<span class="t" style="top:224.99px;font-size:11px;color:#5a5a5a;font-weight:700;left:849.60px;transform-origin:0 0;">C. Trabajo...</span>
<span class="t" style="top:224.99px;font-size:11px;color:#5a5a5a;font-weight:700;left:929.80px;transform-origin:0 0;transform:scaleX(1.0302);">D. Aprovi...</span>
<span class="t" style="top:224.99px;font-size:11px;color:#5a5a5a;font-weight:700;left:1006.90px;transform-origin:0 0;transform:scaleX(0.9866);">E. Otros i...</span>
<span class="t" style="top:224.99px;font-size:11px;color:#5a5a5a;font-weight:700;left:1082.30px;transform-origin:0 0;transform:scaleX(0.9519);">F. Gastos ...</span>
<span class="t" style="top:224.99px;font-size:11px;color:#5a5a5a;font-weight:700;left:1158.20px;transform-origin:0 0;transform:scaleX(0.9958);">G. Otros ...</span>
<span class="t" style="top:224.99px;font-size:11px;color:#5a5a5a;font-weight:700;left:1231.80px;transform-origin:0 0;transform:scaleX(1.0761);">H. Amorti...</span>
</div>
</body></html>
